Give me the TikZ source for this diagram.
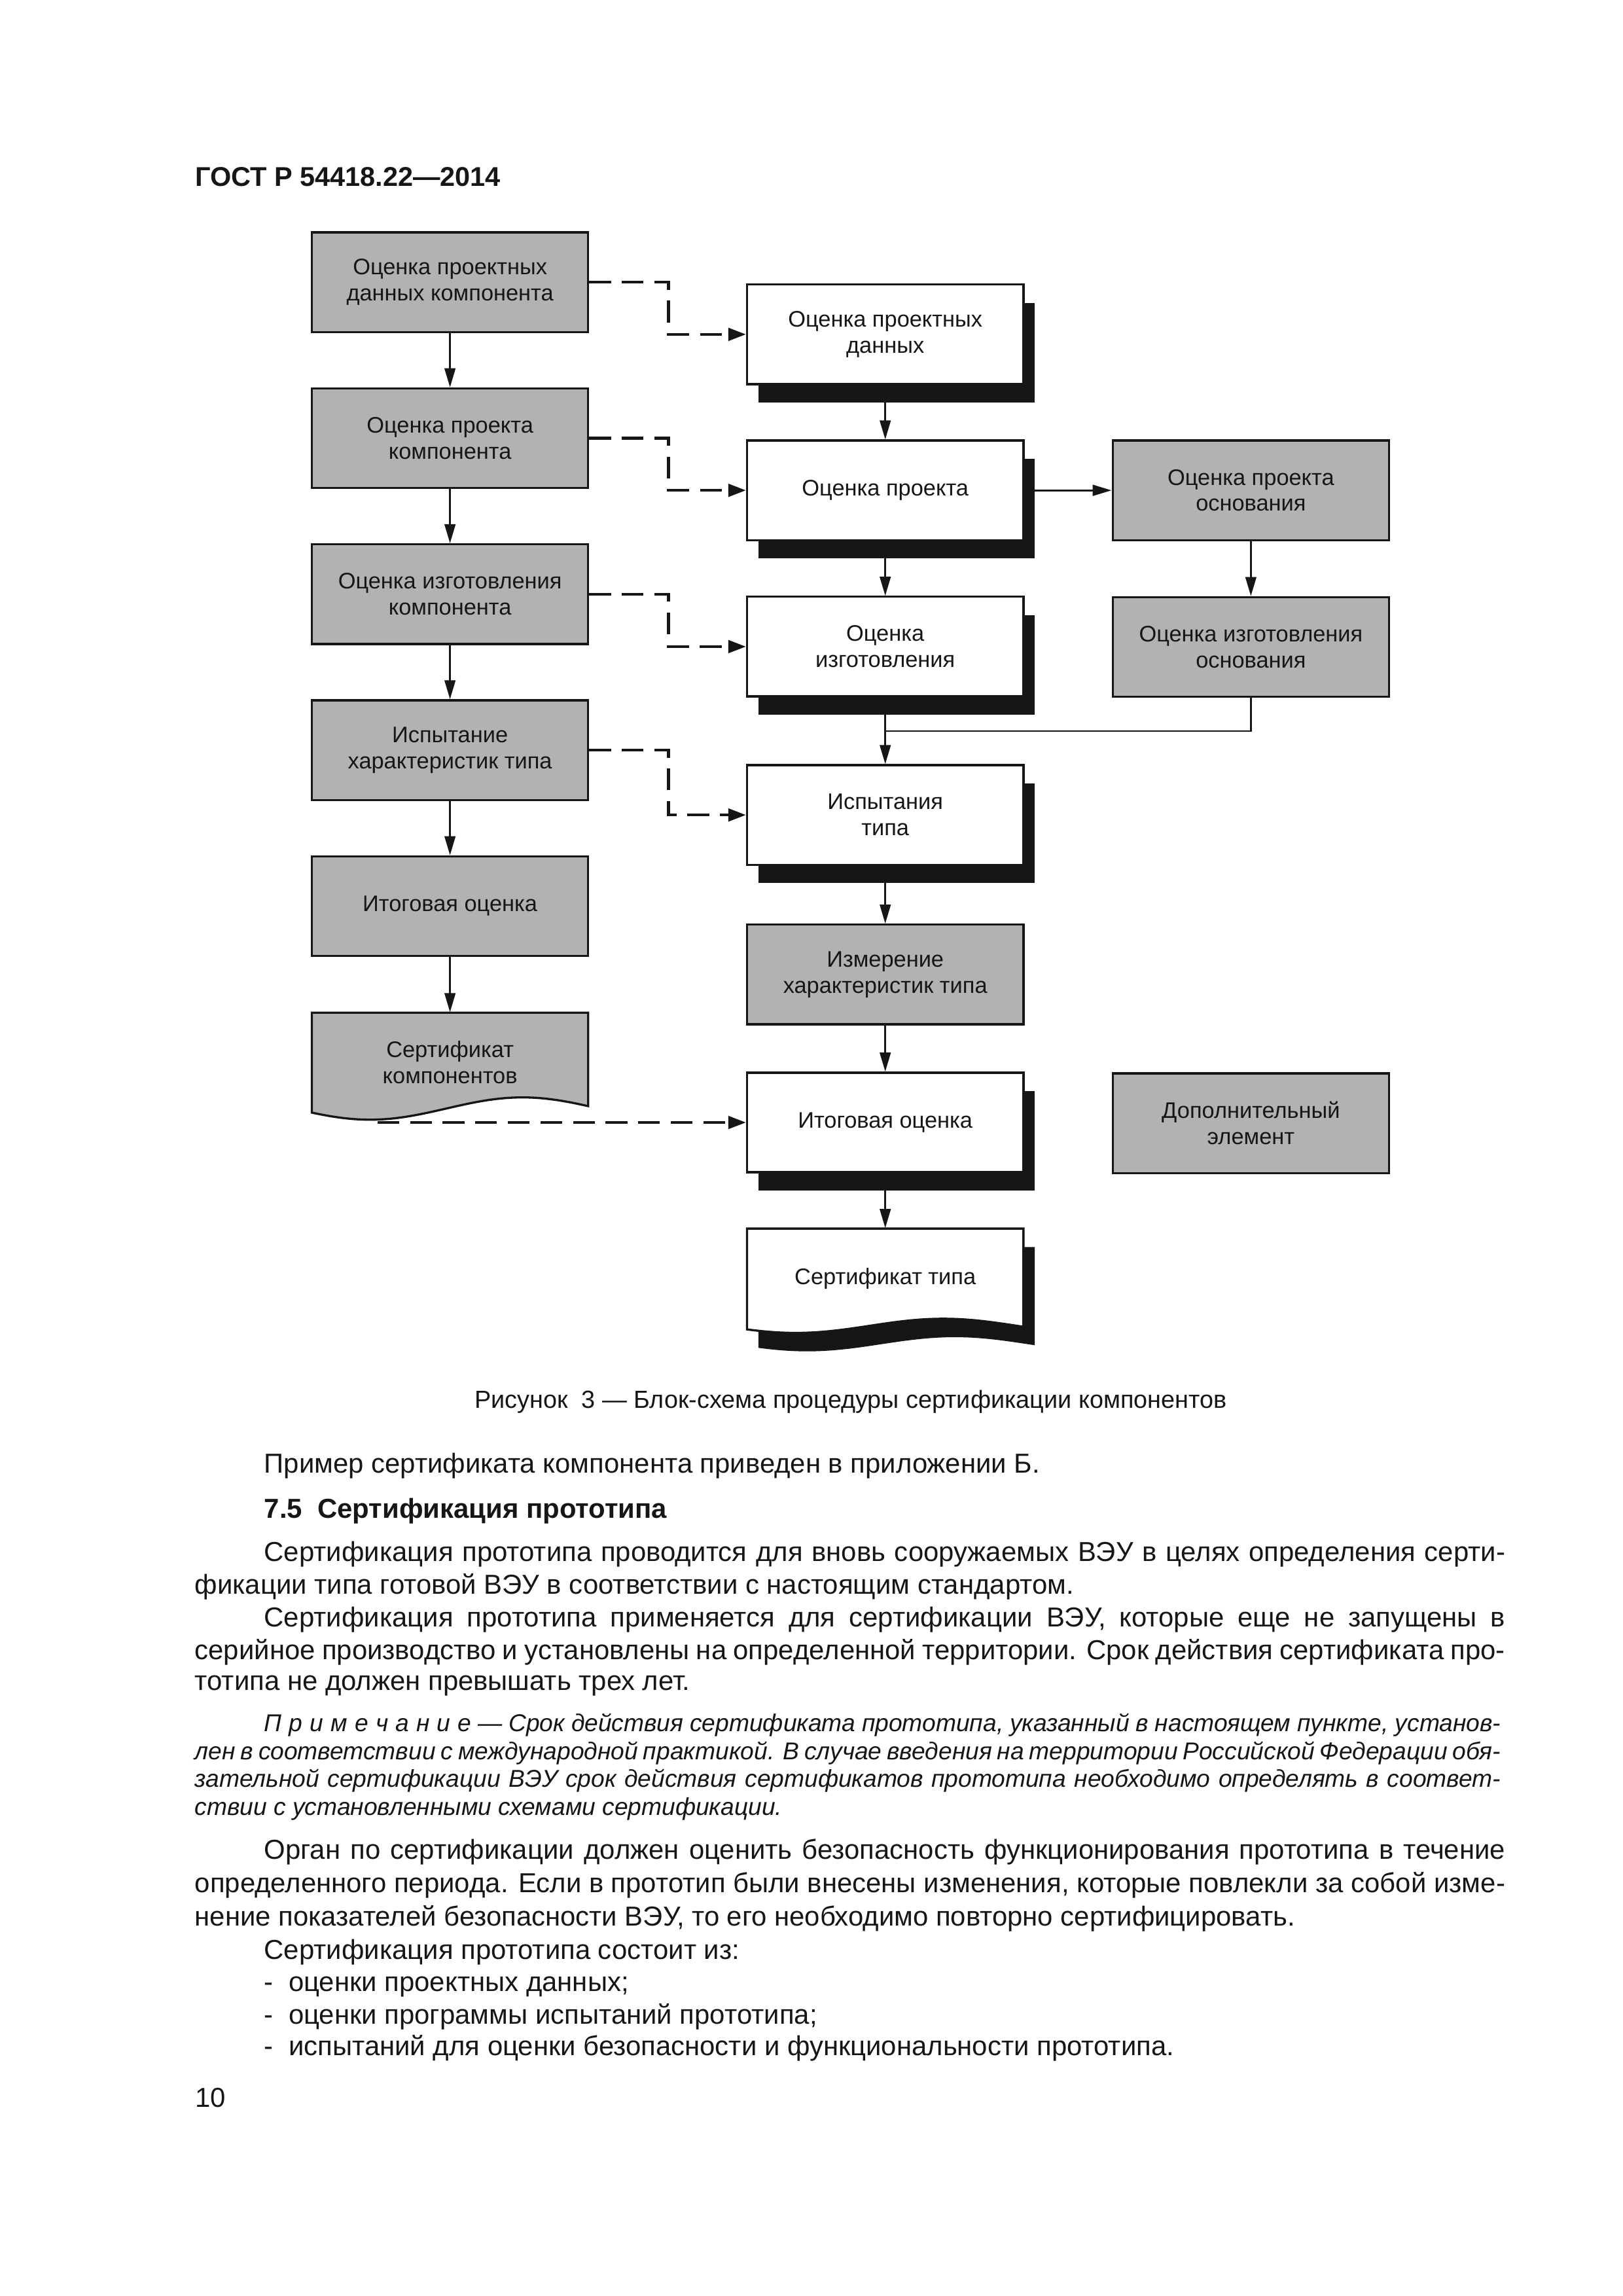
\documentclass[tikz,border=0pt]{standalone}
\usepackage{fontspec}
\setmainfont{Liberation Sans}
\usetikzlibrary{arrows.meta,shadows}
\definecolor{boxgray}{RGB}{178,178,178}
\definecolor{ink}{RGB}{22,22,22}
\newlength\mylen
\newcommand\bodyfnt{\fontsize{\bsz pt}{12pt}\selectfont}
\newcommand\capfnt{\fontsize{\csz pt}{12pt}\selectfont}
\newcommand\notefnt{\fontsize{\nsz pt}{10pt}\selectfont\itshape}
\newcommand\bxfnt{\fontsize{\xsz pt}{9.6pt}\selectfont}
\newcommand\hdrfnt{\fontsize{\hsz pt}{12pt}\selectfont\bfseries}
\begin{document}
\settowidth\mylen{\fontsize{10pt}{12pt}\selectfont Пример сертификата компонента приведен в приложении Б.}%
\pgfmathsetmacro\bsz{10*285.5/\mylen}%
\settowidth\mylen{\fontsize{10pt}{12pt}\selectfont Рисунок\ \ 3 — Блок-схема процедуры сертификации компонентов}%
\pgfmathsetmacro\csz{10*276.8/\mylen}%
\settowidth\mylen{\fontsize{10pt}{12pt}\selectfont\itshape ствии с установленными схемами сертификации.}%
\pgfmathsetmacro\nsz{10*216.2/\mylen}%
\settowidth\mylen{\fontsize{10pt}{12pt}\selectfont Оценка проектных}%
\pgfmathsetmacro\xsz{10*71.48/\mylen}%
\settowidth\mylen{\fontsize{10pt}{12pt}\selectfont\bfseries ГОСТ Р 54418.22—2014}%
\pgfmathsetmacro\hsz{10*112.4/\mylen}%
\begin{tikzpicture}[x=0.0190909cm,y=-0.0190909cm,
  box/.style={draw=ink,line width=0.8pt,minimum width=3.5757cm,minimum height=1.2886cm,inner sep=0pt,align=center,font=\bxfnt,text=ink},
  graybox/.style={box,fill=boxgray},
  whitebox/.style={box,fill=white,drop shadow={shadow xshift=0.147cm,shadow yshift=-0.2348cm,fill=ink,opacity=1}},
  docnode/.style={minimum width=3.5757cm,minimum height=1.2886cm,inner sep=0pt,align=center,font=\bxfnt,text=ink},
  conn/.style={draw=ink,line width=0.6pt,-{Triangle[length=7pt,width=4pt]}},
  dconn/.style={draw=ink,line width=1.1pt,dash pattern=on 8pt off 4pt,-{Triangle[length=6.5pt,width=4.6pt]}},
  plainline/.style={draw=ink,line width=0.6pt},
  txt/.style={anchor=base west,inner sep=0pt,text=ink,font=\bodyfnt},
  ntxt/.style={txt,font=\notefnt}]
% ---- page ----
\fill[white] (0,0) rectangle (1100,1556);
\useasboundingbox (0,0) rectangle (1100,1556);
\node[txt,font=\hdrfnt] (hdr) at (132,126.4) {ГОСТ Р 54418.22—2014};
% ---- left column ----
\node[graybox] (l1) at (305,191.25) {Оценка проектных\\данных компонента};
\node[graybox] (l2) at (305,296.95) {Оценка проекта\\компонента};
\node[graybox] (l3) at (305,402.65) {Оценка изготовления\\компонента};
\node[graybox] (l4) at (305,508.35) {Испытание\\характеристик типа};
\node[graybox] (l5) at (305,614.05) {Итоговая оценка};
\path[fill=boxgray,draw=ink,line width=0.8pt] (211.35,686.3) -- (398.65,686.3) -- plot[domain=187.3:0,samples=60,smooth,variable=\t] ({211.35+\t},{751.25+7.55*cos((\t-39.4)*1.7408)}) -- cycle;
\node[docnode] (l6) at (305,720.05) {Сертификат\\компонентов};
% ---- middle column ----
\node[whitebox] (a) at (600,226.6) {Оценка проектных\\данных};
\node[whitebox] (b) at (600,332.3) {Оценка проекта};
\node[whitebox] (c) at (600,438.2) {Оценка\\изготовления};
\node[whitebox] (d) at (600,552.3) {Испытания\\типа};
\node[graybox] (e) at (600,660.4) {Измерение\\характеристик типа};
\node[whitebox] (f) at (600,760.7) {Итоговая оценка};
\path[fill=ink] (514.05,845.1) -- (701.35,845.1) -- plot[domain=187.3:0,samples=60,smooth,variable=\t] ({514.05+\t},{911+4.8*cos((\t-33)*1.8)}) -- cycle;
\path[fill=white,draw=ink,line width=0.8pt] (506.35,832.6) -- (693.65,832.6) -- plot[domain=187.3:0,samples=60,smooth,variable=\t] ({506.35+\t},{898.5+4.8*cos((\t-33)*1.8)}) -- cycle;
\node[docnode] (g) at (600,866.35) {Сертификат типа};
% ---- right column ----
\node[graybox] (r1) at (847.8,332.3) {Оценка проекта\\основания};
\node[graybox] (r2) at (847.8,438.4) {Оценка изготовления\\основания};
\node[graybox] (r3) at (847.8,761.2) {Дополнительный\\элемент};
% ---- connectors ----
\draw[conn] (l1.south) -- (l2.north);
\draw[conn] (l2.south) -- (l3.north);
\draw[conn] (l3.south) -- (l4.north);
\draw[conn] (l4.south) -- (l5.north);
\draw[conn] (l5.south) -- (l6.north);
\draw[conn] (a.south) -- (b.north);
\draw[conn] (b.south) -- (c.north);
\draw[conn] (c.south) -- (d.north);
\coordinate (jn) at (600,495.5);
\draw[plainline] (r2.south) |- (jn);
\draw[conn] (d.south) -- (e.north);
\draw[conn] (e.south) -- (f.north);
\draw[conn] (f.south) -- (g.north);
\draw[conn,line width=0.8pt] (b.east) -- (r1.west);
\draw[conn] (r1.south) -- (r2.north);
\draw[dconn] (l1.east) -- ++(53.8,0) |- (a.west);
\draw[dconn] (l2.east) -- ++(53.8,0) |- (b.west);
\draw[dconn] (l3.east) -- ++(53.8,0) |- (c.west);
\draw[dconn] (l4.east) -- ++(53.8,0) |- (d.west);
\coordinate (l6out) at (255.8,760.7);
\draw[dconn] (l6out) -- (f.west);
% ---- text ----
\node[txt,font=\capfnt,anchor=base] (cap) at (576.5,954.5) {Рисунок\ \ 3 — Блок-схема процедуры сертификации компонентов};
\node[txt] (t1) at (178.7,998) {Пример сертификата компонента приведен в приложении Б.};
\node[txt,font=\bodyfnt\bfseries] (t2) at (178.7,1029) {7.5\ \ Сертификация прототипа};
\node[txt] (t3) at (178.7,1058) {\makebox[16.055cm][s]{Сертификация прототипа проводится для вновь сооружаемых ВЭУ в целях определения серти-}};
\node[txt] (t4) at (131.7,1080.2) {фикации типа готовой ВЭУ в соответствии с настоящим стандартом.};
\node[txt] (t5) at (178.7,1102.3) {\makebox[16.055cm][s]{Сертификация прототипа применяется для сертификации ВЭУ, которые еще не запущены в}};
\node[txt] (t6) at (131.7,1124.5) {\makebox[16.953cm][s]{серийное производство и установлены на определенной территории. Срок действия сертификата про-}};
\node[txt] (t7) at (131.7,1145.5) {тотипа не должен превышать трех лет.};
\node[ntxt] (n1) at (178.7,1173.2) {\makebox[16.0cm][s]{П\kern.3em р\kern.3em и\kern.3em м\kern.3em е\kern.3em ч\kern.3em а\kern.3em н\kern.3em и\kern.3em е — Срок действия сертификата прототипа, указанный в настоящем пункте, установ-}};
\node[ntxt] (n2) at (131.7,1192.3) {\makebox[16.897cm][s]{лен в соответствии с международной практикой. В случае введения на территории Российской Федерации обя-}};
\node[ntxt] (n3) at (131.7,1211.2) {\makebox[16.897cm][s]{зательной сертификации ВЭУ срок действия сертификатов прототипа необходимо определять в соответ-}};
\node[ntxt] (n4) at (131.7,1230.1) {ствии с установленными схемами сертификации.};
\node[txt] (t8) at (178.7,1260) {\makebox[16.055cm][s]{Орган по сертификации должен оценить безопасность функционирования прототипа в течение}};
\node[txt] (t9) at (131.7,1282.6) {\makebox[16.953cm][s]{определенного периода. Если в прототип были внесены изменения, которые повлекли за собой изме-}};
\node[txt] (t10) at (131.7,1305.3) {нение показателей безопасности ВЭУ, то его необходимо повторно сертифицировать.};
\node[txt] (t11) at (178.7,1327.6) {Сертификация прототипа состоит из:};
\node[txt] (d1) at (178.7,1349.5) {-};
\node[txt] (i1) at (195.3,1349.5) {оценки проектных данных;};
\node[txt] (d2) at (178.7,1371.5) {-};
\node[txt] (i2) at (195.3,1371.5) {оценки программы испытаний прототипа;};
\node[txt] (d3) at (178.7,1393) {-};
\node[txt] (i3) at (195.3,1393) {испытаний для оценки безопасности и функциональности прототипа.};
\node[txt] (pg) at (132,1428) {10};
\end{tikzpicture}
\end{document}
